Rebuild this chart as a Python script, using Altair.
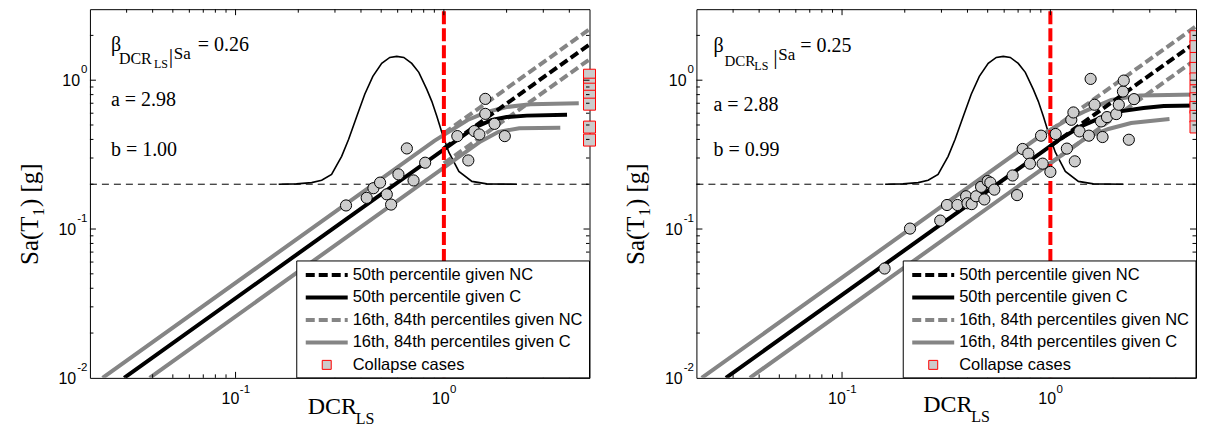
import altair as alt
import pandas as pd

SERIF = "Liberation Serif"
SANS = "Liberation Sans"

# ---------------- axes ----------------
X_DOMAIN = [0.02, 5.0]
Y_DOMAIN = [0.01, 3.0]
X_LABEL_VALUES = [0.1, 1.0]
X_LABEL_EXP = ["-1", "0"]
Y_LABEL_VALUES = [0.01, 0.1, 1.0]
Y_LABEL_EXP = ["-2", "-1", "0"]
LABEL_BASE = "10"
X_MAJOR_TICKS = [0.1, 1.0]
X_MINOR_TICKS = [0.03, 0.04, 0.05, 0.06, 0.07, 0.08, 0.09,
                 0.2, 0.3, 0.4, 0.5, 0.6, 0.7, 0.8, 0.9, 2.0, 3.0, 4.0]
Y_MAJOR_TICKS = [0.1, 1.0]
Y_MINOR_TICKS = [0.02, 0.03, 0.04, 0.05, 0.06, 0.07, 0.08, 0.09,
                 0.2, 0.3, 0.4, 0.5, 0.6, 0.7, 0.8, 0.9, 2.0]

SA_REF = [0.2]          # horizontal dashed line / pdf baseline
DCR_LIMIT = [1.0]       # red dashed line

# ---------------- pdf curve ----------------
BELL_DCR = [0.161, 0.196, 0.232, 0.259, 0.289, 0.323, 0.349, 0.382, 0.417, 0.456, 0.503,
            0.550, 0.594, 0.642, 0.701, 0.758, 0.828, 0.875, 0.925, 0.977, 1.056, 1.180,
            1.363, 1.608, 2.243]
BELL_SA = [0.200, 0.201, 0.205, 0.213, 0.233, 0.308, 0.401, 0.572, 0.804, 1.061, 1.297,
           1.423, 1.446, 1.423, 1.297, 1.129, 0.868, 0.721, 0.572, 0.447, 0.328, 0.244,
           0.209, 0.201, 0.200]

# ---------------- left panel ----------------
L_PTS_DCR = [0.339, 0.426, 0.459, 0.494, 0.532, 0.558, 0.605, 0.664, 0.715, 0.813,
             1.16, 1.31, 1.40, 1.48, 1.58, 1.58, 1.75, 1.96]
L_PTS_SA = [0.144, 0.162, 0.188, 0.205, 0.171, 0.146, 0.233, 0.348, 0.212, 0.279,
            0.421, 0.289, 0.455, 0.432, 0.749, 0.594, 0.509, 0.421]
L_COL_DCR = [5.0, 5.0, 5.0, 5.0, 5.0, 5.0, 5.0]
L_COL_SA = [1.08, 0.94, 0.87, 0.78, 0.69, 0.484, 0.396]

L_C50_DCR = [0.0292, 1.4, 1.7, 2.0, 2.5, 3.9]
L_C50_SA = [0.01, 0.48, 0.54, 0.565, 0.578, 0.585]
L_C16_DCR = [0.0230, 0.9, 1.3, 1.6, 2.0, 2.6, 4.44]
L_C16_SA = [0.01, 0.391, 0.54, 0.61, 0.66, 0.69, 0.70]
L_C84_DCR = [0.0387, 1.5, 1.83, 2.3, 3.62]
L_C84_SA = [0.01, 0.388, 0.45, 0.475, 0.48]
L_NC50_DCR = [1.0, 5.0]
L_NC50_SA = [0.348, 1.74]
L_NC16_DCR = [1.0, 5.0]
L_NC16_SA = [0.44, 2.2]
L_NC84_DCR = [1.0, 5.0]
L_NC84_SA = [0.276, 1.38]

# ---------------- right panel ----------------
R_PTS_DCR = [0.160, 0.212, 0.296, 0.319, 0.358, 0.394, 0.400, 0.419, 0.440, 0.465,
             0.482, 0.500, 0.515, 0.538, 0.659, 0.692, 0.736, 0.784, 0.798, 0.902,
             0.918, 1.0, 1.06, 1.20, 1.26, 1.29, 1.31, 1.38, 1.53, 1.56,
             1.63, 1.75, 1.78, 1.87, 2.07, 2.13, 2.23, 2.25, 2.38, 2.52]
R_PTS_SA = [0.0543, 0.1007, 0.114, 0.145, 0.145, 0.166, 0.149, 0.147, 0.166, 0.192,
            0.158, 0.210, 0.205, 0.184, 0.229, 0.169, 0.345, 0.321, 0.275, 0.424,
            0.275, 0.242, 0.435, 0.347, 0.542, 0.607, 0.285, 0.453, 0.424, 1.02,
            0.684, 0.528, 0.415, 0.565, 0.592, 0.684, 0.839, 0.994, 0.398, 0.746]
R_COL_DCR = [5.0, 5.0, 5.0, 5.0, 5.0, 5.0, 5.0, 5.0, 5.0, 5.0]
R_COL_SA = [1.96, 1.68, 1.40, 1.20, 1.02, 0.848, 0.75, 0.656, 0.571, 0.485]

R_C50_DCR = [0.0277, 1.1, 1.4, 1.75, 2.2, 2.8, 3.5, 5.0]
R_C50_SA = [0.01, 0.397, 0.49, 0.56, 0.62, 0.65, 0.67, 0.675]
R_C16_DCR = [0.0212, 0.9, 1.2, 1.46, 1.96, 2.7, 5.0]
R_C16_SA = [0.01, 0.425, 0.54, 0.617, 0.738, 0.79, 0.80]
R_C84_DCR = [0.0361, 1.5, 1.9, 2.44, 3.73]
R_C84_SA = [0.01, 0.415, 0.47, 0.515, 0.548]
R_NC50_DCR = [1.0, 5.0]
R_NC50_SA = [0.361, 1.80]
R_NC16_DCR = [1.0, 5.0]
R_NC16_SA = [0.46, 2.3]
R_NC84_DCR = [1.0, 5.0]
R_NC84_SA = [0.277, 1.38]

LEGEND_LABELS = ["50th percentile given NC", "50th percentile given C",
                 "16th, 84th percentiles given NC", "16th, 84th percentiles given C",
                 "Collapse cases"]

W, H = 500, 369
ONE = pd.DataFrame({"k": [0]})
GRAY = "#858585"
BASE_FS = 16
EXP_FS = 11.5
BASE_W = 1.112 * BASE_FS  # width of "10" in Liberation Sans


def exp_width(e):
    return sum(0.333 if c == "-" else 0.556 for c in e) * EXP_FS


def lines_df(groups):
    rows = []
    for g, (xv, yv) in enumerate(groups):
        for i, (a, b) in enumerate(zip(xv, yv)):
            rows.append({"x": a, "y": b, "g": g, "i": i})
    return pd.DataFrame(rows)


def txt(s, x, y, size, font=SERIF, align="left", baseline="alphabetic", angle=0):
    return alt.Chart(ONE).mark_text(
        text=s, font=font, fontSize=size, align=align, baseline=baseline,
        angle=angle, color="black"
    ).encode(x=alt.value(x), y=alt.value(y))


def panel(P):
    xs = alt.Scale(type="log", domain=X_DOMAIN, nice=False)
    ys = alt.Scale(type="log", domain=Y_DOMAIN, nice=False)

    def X():
        return alt.X("x:Q", scale=xs, axis=None)

    def Y():
        return alt.Y("y:Q", scale=ys, axis=None)

    L = []
    # invisible anchor to fix the left extent of the panel
    L.append(alt.Chart(ONE).mark_rule(opacity=0).encode(
        x=alt.value(-81), y=alt.value(0), y2=alt.value(H)))
    # horizontal dashed reference line
    L.append(alt.Chart(pd.DataFrame({"y": SA_REF})).mark_rule(
        color="black", strokeWidth=1, strokeDash=[7, 5]).encode(
        y=Y(), x=alt.value(0), x2=alt.value(W)))
    # pdf curve
    L.append(alt.Chart(pd.DataFrame({"x": BELL_DCR, "y": BELL_SA, "i": range(len(BELL_DCR))}))
             .mark_line(color="black", strokeWidth=1.6, clip=True)
             .encode(x=X(), y=Y(), order="i:Q"))

    def lines(groups, color, dash):
        kw = dict(color=color, strokeWidth=4, clip=True)
        if dash:
            kw["strokeDash"] = [9, 4]
        return alt.Chart(lines_df(groups)).mark_line(**kw).encode(
            x=X(), y=Y(), detail="g:N", order="i:Q")

    L.append(lines([(P["c16"]), (P["c84"])], GRAY, False))
    L.append(lines([(P["nc16"]), (P["nc84"])], GRAY, True))
    L.append(lines([P["c50"]], "black", False))
    L.append(lines([P["nc50"]], "black", True))
    # red vertical line
    L.append(alt.Chart(pd.DataFrame({"x": DCR_LIMIT})).mark_rule(
        color="#ff0000", strokeWidth=4, strokeDash=[13, 4]).encode(
        x=X(), y=alt.value(2), y2=alt.value(H)))
    # data points
    L.append(alt.Chart(pd.DataFrame({"x": P["pts"][0], "y": P["pts"][1]})).mark_point(
        shape="circle", filled=True, fill="#cccccc", stroke="black", strokeWidth=1,
        size=125, opacity=1).encode(x=X(), y=Y()))
    # collapse cases
    L.append(alt.Chart(pd.DataFrame({"x": P["col"][0], "y": P["col"][1]})).mark_point(
        shape="square", filled=True, fill="#cccccc", stroke="#ff0000", strokeWidth=1,
        size=144, opacity=1, clip=P["clip_col"]).encode(x=X(), y=Y()))
    # inward ticks
    for vals, ln in ((X_MAJOR_TICKS, 6), (X_MINOR_TICKS, 3.5)):
        df = pd.DataFrame({"x": vals})
        L.append(alt.Chart(df).mark_rule(color="black", strokeWidth=1).encode(
            x=X(), y=alt.value(H), y2=alt.value(H - ln)))
        L.append(alt.Chart(df).mark_rule(color="black", strokeWidth=1).encode(
            x=X(), y=alt.value(0), y2=alt.value(ln)))
    for vals, ln in ((Y_MAJOR_TICKS, 6), (Y_MINOR_TICKS, 3.5)):
        df = pd.DataFrame({"y": vals})
        L.append(alt.Chart(df).mark_rule(color="black", strokeWidth=1).encode(
            y=Y(), x=alt.value(0), x2=alt.value(ln)))
        L.append(alt.Chart(df).mark_rule(color="black", strokeWidth=1).encode(
            y=Y(), x=alt.value(W), x2=alt.value(W - ln)))

    # tick labels: "10" with a raised exponent
    for v, e in zip(X_LABEL_VALUES, X_LABEL_EXP):
        ew = exp_width(e)
        right = -(BASE_W + ew) / 2 + BASE_W
        df = pd.DataFrame({"x": [v]})
        L.append(alt.Chart(df).mark_text(
            text=LABEL_BASE, font=SANS, fontSize=BASE_FS, align="right",
            baseline="alphabetic", dx=right, color="black").encode(
            x=X(), y=alt.value(H + 26)))
        L.append(alt.Chart(df).mark_text(
            text=e, font=SANS, fontSize=EXP_FS, align="left",
            baseline="alphabetic", dx=right + 0.5, color="black").encode(
            x=X(), y=alt.value(H + 15)))
    for v, e in zip(Y_LABEL_VALUES, Y_LABEL_EXP):
        ew = exp_width(e)
        df = pd.DataFrame({"y": [v]})
        L.append(alt.Chart(df).mark_text(
            text=LABEL_BASE, font=SANS, fontSize=BASE_FS, align="right",
            baseline="middle", dy=1, color="black").encode(
            y=Y(), x=alt.value(-3.5 - ew)))
        L.append(alt.Chart(df).mark_text(
            text=e, font=SANS, fontSize=EXP_FS, align="right",
            baseline="middle", dy=-10, color="black").encode(
            y=Y(), x=alt.value(-2.5)))

    # legend
    L.append(alt.Chart(ONE).mark_rect(fill="white", stroke="black", strokeWidth=1).encode(
        x=alt.value(207), x2=alt.value(W), y=alt.value(252), y2=alt.value(H)))
    styles = [("black", [9, 4]), ("black", None), (GRAY, [9, 4]), (GRAY, None)]
    for k, lab in enumerate(LEGEND_LABELS):
        ry = 266 + 22.5 * k
        if k < 4:
            col, dash = styles[k]
            kw = dict(color=col, strokeWidth=4)
            if dash:
                kw["strokeDash"] = dash
            L.append(alt.Chart(ONE).mark_rule(**kw).encode(
                x=alt.value(216), x2=alt.value(258), y=alt.value(ry)))
        else:
            L.append(alt.Chart(ONE).mark_point(
                shape="square", filled=True, fill="#cccccc", stroke="#ff0000",
                strokeWidth=1, size=81, opacity=1).encode(x=alt.value(237), y=alt.value(ry)))
        L.append(txt(lab, 263, ry, 16.5, font=SANS, baseline="middle"))

    # annotations
    A = P["ann"]
    L.append(txt("β", A["beta"][0], A["beta"][1], 20))
    L.append(txt("DCR", A["dcr"][0], A["dcr"][1], P["dcr_fs"]))
    L.append(txt("LS", A["ls"][0], A["ls"][1], 12))
    L.append(txt("|", A["bar"][0], A["bar"][1], 22))
    L.append(txt("Sa", A["sa"][0], A["sa"][1], 17))
    L.append(txt(P["beta_txt"], A["eq"][0], A["eq"][1], 20))
    L.append(txt(P["a_txt"], A["a"][0], A["a"][1], 20))
    L.append(txt(P["b_txt"], A["b"][0], A["b"][1], 20))

    # axis titles
    T = P["titles"]
    L.append(txt("DCR", T["dcr"][0], T["dcr"][1], 24))
    L.append(txt("LS", T["ls"][0], T["ls"][1], 16))
    L.append(txt("Sa(T", -52, 256, 25, angle=270))
    L.append(txt("1", -46, 207, 16, angle=270))
    L.append(txt(") [g]", -52, 198, 25, angle=270))

    return alt.layer(*L).properties(width=W, height=H)


LEFT = dict(
    pts=(L_PTS_DCR, L_PTS_SA), col=(L_COL_DCR, L_COL_SA), clip_col=False,
    c50=(L_C50_DCR, L_C50_SA), c16=(L_C16_DCR, L_C16_SA), c84=(L_C84_DCR, L_C84_SA),
    nc50=(L_NC50_DCR, L_NC50_SA), nc16=(L_NC16_DCR, L_NC16_SA), nc84=(L_NC84_DCR, L_NC84_SA),
    beta_txt="= 0.26", a_txt="a = 2.98", b_txt="b = 1.00", dcr_fs=16,
    ann=dict(beta=(21, 42), dcr=(29, 55), ls=(64, 59), bar=(79, 54), sa=(84, 50),
             eq=(108, 42), a=(21, 97), b=(21, 147)),
    titles=dict(dcr=(218, 405), ls=(266, 415)),
)
RIGHT = dict(
    pts=(R_PTS_DCR, R_PTS_SA), col=(R_COL_DCR, R_COL_SA), clip_col=True,
    c50=(R_C50_DCR, R_C50_SA), c16=(R_C16_DCR, R_C16_SA), c84=(R_C84_DCR, R_C84_SA),
    nc50=(R_NC50_DCR, R_NC50_SA), nc16=(R_NC16_DCR, R_NC16_SA), nc84=(R_NC84_DCR, R_NC84_SA),
    beta_txt="= 0.25", a_txt="a = 2.88", b_txt="b = 0.99", dcr_fs=15,
    ann=dict(beta=(17, 43), dcr=(28, 57), ls=(58, 61), bar=(77, 55), sa=(82, 51),
             eq=(104, 43), a=(17, 102), b=(17, 147)),
    titles=dict(dcr=(227, 403), ls=(275, 413)),
)

chart = alt.hconcat(panel(LEFT), panel(RIGHT), spacing=107, bounds="flush").properties(
    padding={"left": 0, "top": 0, "right": 0, "bottom": 0}
).configure_view(stroke="black", strokeWidth=1)

chart.save("out.html", embed_options={"renderer": "svg", "actions": False})
